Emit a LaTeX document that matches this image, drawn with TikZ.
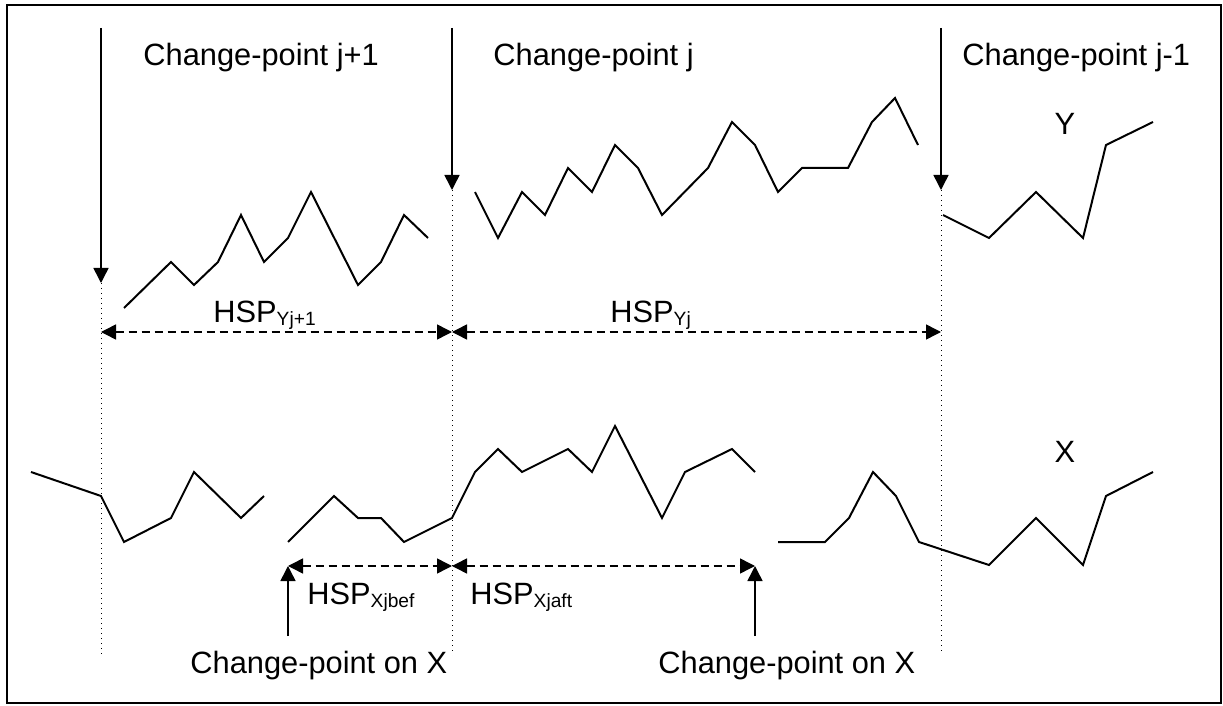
\documentclass[tikz,border=0pt]{standalone}
\usepackage{fontspec}
\setmainfont{Liberation Sans}
\usetikzlibrary{arrows.meta}
\newcommand{\hsp}[1]{HSP\raisebox{-1.6pt}{\fontsize{9.6}{11}\selectfont #1}}
\tikzset{
  lbl/.style={inner sep=0pt, font=\fontsize{15.4}{18}\selectfont},
  series/.style={line width=1pt, line join=miter},
  cparrow/.style={line width=0.75pt, -{Triangle[length=7.5pt,width=7.5pt]}},
  span/.style={line width=0.75pt, dash pattern=on 4pt off 2.5pt,
    {Triangle[length=7.5pt,width=7.5pt]}-{Triangle[length=7.5pt,width=7.5pt]}},
  guide/.style={line width=0.5pt, dotted},
}
\begin{document}
\begin{tikzpicture}[x=0.5pt,y=-0.5pt]
\useasboundingbox (0,0) rectangle (1223,706);
\draw[line width=1pt] (7,5) rectangle (1221,703);

% change-point positions on Y (top) and their guide lines
\coordinate (t1) at (101,28);  \coordinate (p1) at (101,283); \coordinate (b1) at (101,654);
\coordinate (t2) at (452,28);  \coordinate (p2) at (452,190); \coordinate (b2) at (452,654);
\coordinate (t3) at (941,28);  \coordinate (p3) at (941,190); \coordinate (b3) at (941,654);
\draw[cparrow] (t1) -- (p1);
\draw[cparrow] (t2) -- (p2);
\draw[cparrow] (t3) -- (p3);
\draw[guide] (p1) -- (b1);
\draw[guide] (p2) -- (b2);
\draw[guide] (p3) -- (b3);

\node[lbl, anchor=base west] (cpj1) at (143,66) {Change-point j+1};
\node[lbl, anchor=base west] (cpj)  at (493,66) {Change-point j};
\node[lbl, anchor=base west] (cpjm) at (962,66) {Change-point j-1};
\node[lbl, anchor=base] (ylab) at (1065,135) {Y};
\node[lbl, anchor=base] (xlab) at (1065,462) {X};

% series Y
\draw[series] (124,308) -- (171,262) -- (194,285) -- (218,262) -- (241,215) -- (264,262)
  -- (288,238) -- (311,192) -- (358,285) -- (381,262) -- (404,215) -- (428,238);
\draw[series] (475,192) -- (498,238) -- (522,192) -- (545,215) -- (568,168) -- (592,192)
  -- (615,145) -- (638,168) -- (662,215) -- (708,168) -- (732,122) -- (755,145)
  -- (778,192) -- (802,168) -- (848,168) -- (872,122) -- (895,98) -- (918,145);
\draw[series] (943,215) -- (989,238) -- (1036,192) -- (1083,238) -- (1106,145) -- (1153,122);

% series X
\draw[series] (31,472) -- (101,496) -- (124,542) -- (171,518) -- (194,472) -- (241,518) -- (264,496);
\draw[series] (288,542) -- (334,496) -- (358,518) -- (381,518) -- (404,542) -- (452,518)
  -- (475,472) -- (498,449) -- (522,472) -- (568,449) -- (592,472) -- (615,426)
  -- (662,518) -- (685,472) -- (732,449) -- (755,472);
\draw[series] (778,542) -- (825,542) -- (849,518) -- (873,472) -- (896,496) -- (919,542)
  -- (989,565) -- (1036,518) -- (1083,565) -- (1106,496) -- (1153,472);

% homogeneous segments on Y
\coordinate (hy1) at (101,332); \coordinate (hy2) at (452,332); \coordinate (hy3) at (941,332);
\draw[span] (hy1) -- (hy2);
\draw[span] (hy2) -- (hy3);
\node[lbl, anchor=base west] (hspy1) at (213,322) {\hsp{Yj+1}};
\node[lbl, anchor=base west] (hspy)  at (610,322) {\hsp{Yj}};

% homogeneous segments on X
\coordinate (hx1) at (288,566); \coordinate (hx2) at (452,566); \coordinate (hx3) at (755,566);
\draw[span] (hx1) -- (hx2);
\draw[span] (hx2) -- (hx3);
\node[lbl, anchor=base west] (hspxb) at (307,604) {\hsp{Xjbef}};
\node[lbl, anchor=base west] (hspxa) at (470,604) {\hsp{Xjaft}};

% change-points on X
\coordinate (u1) at (288,636); \coordinate (u2) at (755,636);
\draw[cparrow] (u1) -- (hx1);
\draw[cparrow] (u2) -- (hx3);
\node[lbl, anchor=base west] (cpx1) at (190,673) {Change-point on X};
\node[lbl, anchor=base west] (cpx2) at (658,673) {Change-point on X};
\end{tikzpicture}
\end{document}
